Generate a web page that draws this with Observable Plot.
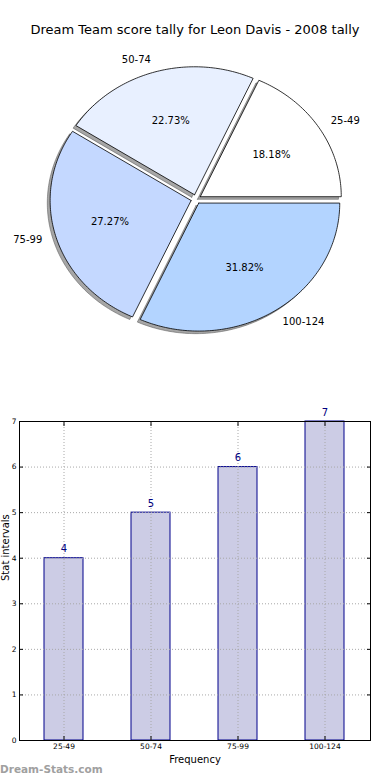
<!DOCTYPE html>
<html><head><meta charset="utf-8">
<script src="https://cdn.jsdelivr.net/npm/d3@7"></script>
<script src="https://cdn.jsdelivr.net/npm/@observablehq/plot@0.6"></script>
<style>
body{margin:0;background:#fff;font-family:"DejaVu Sans",sans-serif;}
#wrap{position:relative;width:390px;height:780px;overflow:hidden;background:#fff;}
#title{position:absolute;top:22px;left:0;width:390px;text-align:center;font-size:13px;color:#000;font-family:"DejaVu Sans",sans-serif;}
#pie{position:absolute;top:40px;left:0;}
#bar{position:absolute;top:400px;left:0;}
#wm{position:absolute;left:0;top:763px;font-size:10.5px;font-weight:bold;color:#a0a0a0;font-family:"DejaVu Sans",sans-serif;}
svg{font-family:"DejaVu Sans",sans-serif;}
</style></head><body>
<div id="wrap">
<div id="title">Dream Team score tally for Leon Davis - 2008 tally</div>
<div id="pie"></div>
<div id="bar"></div>
<div id="wm">Dream-Stats.com</div>
</div>
<script>
const categories = ["25-49", "50-74", "75-99", "100-124"];
const counts = [4, 5, 6, 7];
const sliceColors = ["#ffffff", "#e8f0ff", "#c4d8ff", "#b3d4ff"];
const yTicks = [0, 1, 2, 3, 4, 5, 6, 7];
const chartTitle = "Dream Team score tally for Leon Davis - 2008 tally";
const xLabel = "Frequency";
const yLabel = "Stat intervals";

document.getElementById("title").textContent = chartTitle;

// ---------- Pie ----------
const total = d3.sum(counts);
const explode = 0.036;
let acc = 0;
const slices = counts.map((v, i) => {
  const a0 = acc, a1 = acc + v / total * 2 * Math.PI;
  acc = a1;
  return {i, cat: categories[i], v, a0, a1, mid: (a0 + a1) / 2, pct: d3.format(".2f")(v / total * 100) + "%"};
});
function slicePts(s, dx, dy) {
  const ox = explode * Math.cos(s.mid) + dx, oy = explode * Math.sin(s.mid) + dy;
  const pts = [{x: ox, y: oy}];
  const n = Math.max(4, Math.ceil((s.a1 - s.a0) / (Math.PI / 180)));
  for (let k = 0; k <= n; k++) {
    const a = s.a0 + (s.a1 - s.a0) * k / n;
    pts.push({x: ox + Math.cos(a), y: oy + Math.sin(a)});
  }
  pts.push({x: ox, y: oy});
  return pts;
}
const pieMarks = [];
slices.forEach(s => {
  pieMarks.push(Plot.line(slicePts(s, -0.02, -0.02), {x: "x", y: "y", fill: "#4d4d4d", fillOpacity: 0.5, stroke: "#4d4d4d", strokeOpacity: 0.5, strokeWidth: 1}));
  pieMarks.push(Plot.line(slicePts(s, 0, 0), {x: "x", y: "y", fill: sliceColors[s.i], stroke: "#000", strokeWidth: 0.8}));
});
const lab = slices.map(s => ({...s, lx: (1.1 + explode) * Math.cos(s.mid), ly: (1.1 + explode) * Math.sin(s.mid),
  px: (0.6 + explode) * Math.cos(s.mid), py: (0.6 + explode) * Math.sin(s.mid)}));
pieMarks.push(Plot.text(lab.filter(d => d.lx >= 0), {x: "lx", y: "ly", text: "cat", textAnchor: "start", fontSize: 10, fill: "#000"}));
pieMarks.push(Plot.text(lab.filter(d => d.lx < 0), {x: "lx", y: "ly", text: "cat", textAnchor: "end", fontSize: 10, fill: "#000"}));
pieMarks.push(Plot.text(lab, {x: "px", y: "py", text: "pct", fontSize: 10, fill: "#000"}));

const cx = 195.5, cy = 158.7, rx = 141, ry = 128, pw = 390, ph = 320;
const pie = Plot.plot({
  width: pw, height: ph, margin: 0,
  x: {domain: [-cx / rx, (pw - cx) / rx], axis: null},
  y: {domain: [-(ph - cy) / ry, cy / ry], axis: null},
  marks: pieMarks
});
document.getElementById("pie").appendChild(pie);

// ---------- Bar ----------
const barData = categories.map((c, i) => ({cat: c, v: counts[i]}));
const grid = {stroke: "#a8a8a8", strokeOpacity: 1, strokeWidth: 1, strokeDasharray: "1,2"};
const bar = Plot.plot({
  width: 390, height: 380,
  marginTop: 21, marginBottom: 40, marginLeft: 19, marginRight: 20,
  style: {fontFamily: "DejaVu Sans, sans-serif", background: "#fff"},
  x: {domain: categories, paddingInner: 0.55, paddingOuter: 0.275, axis: null},
  y: {domain: [0, 7], axis: null},
  marks: [
    Plot.barY(barData, {x: "cat", y: "v", fill: "#ccccE5", stroke: "#00008b", strokeWidth: 1}),
    Plot.gridY(yTicks, grid),
    Plot.gridX(categories, grid),
    Plot.frame({stroke: "#000", strokeWidth: 1}),
    Plot.axisY(yTicks, {anchor: "left", tickSize: -4, tickPadding: 7, fontSize: 7.5, label: null, stroke: "#000"}),
    Plot.axisY(yTicks, {anchor: "right", tickSize: -4, tickFormat: () => "", label: null, stroke: "#000"}),
    Plot.axisX(categories, {anchor: "bottom", tickSize: -4, tickPadding: 7, fontSize: 7.5, label: null, stroke: "#000"}),
    Plot.axisX(categories, {anchor: "top", tickSize: -4, tickFormat: () => "", label: null, stroke: "#000"}),
    Plot.text(barData, {x: "cat", y: "v", text: d => String(d.v), dy: -9, fill: "#000080", fontSize: 10}),
    Plot.text([xLabel], {frameAnchor: "bottom", dy: 22, fontSize: 10, fill: "#000"}),
    Plot.text([yLabel], {frameAnchor: "left", rotate: -90, dx: -14, fontSize: 10, fill: "#000"})
  ]
});
document.getElementById("bar").appendChild(bar);
</script>
</body></html>
